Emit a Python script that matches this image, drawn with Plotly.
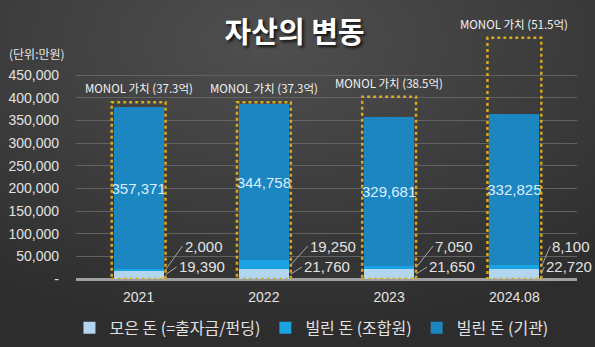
import base64
import plotly.graph_objects as go

# ---- data (만원) ----
categories = ["2021", "2022", "2023", "2024.08"]
raised = [19390, 21760, 21650, 22720]          # 모은 돈 (=출자금/펀딩)
loan_members = [2000, 19250, 7050, 8100]       # 빌린 돈 (조합원)
loan_institution = [357371, 344758, 329681, 332825]  # 빌린 돈 (기관)
monol_value_eok = [37.3, 37.3, 38.5, 51.5]     # MONOL 가치 (억)
y_ticks = [0, 50000, 100000, 150000, 200000, 250000, 300000, 350000, 400000, 450000]

FONT_KR = "Noto Sans CJK KR"
FONT_NUM = "Liberation Sans"

fig = go.Figure()
fig.add_trace(go.Bar(
    name="모은 돈 (=출자금/펀딩)", x=categories, y=raised,
    marker=dict(color="#b3d6f0", line=dict(width=0)), hoverinfo="skip"))
fig.add_trace(go.Bar(
    name="빌린 돈 (조합원)", x=categories, y=loan_members,
    marker=dict(color="#1ba2e2", line=dict(width=0)), hoverinfo="skip"))
fig.add_trace(go.Bar(
    name="빌린 돈 (기관)", x=categories, y=loan_institution,
    marker=dict(color="#1b86bf", line=dict(width=0)),
    text=[f"{v:,}" for v in loan_institution], textposition="inside",
    insidetextanchor="middle", textangle=0, constraintext="none",
    textfont=dict(family=FONT_NUM, size=15, color="#dcefff"),
    cliponaxis=False, hoverinfo="skip"))

# ---- dotted MONOL value boxes + labels ----
box_half = 0.215
box_pad = 17000
shapes = []
annotations = []
for i, v in enumerate(monol_value_eok):
    top = v * 10000 + box_pad
    shapes.append(dict(type="rect", xref="x", yref="y", x0=i - box_half, x1=i + box_half,
                       y0=0, y1=top, line=dict(color="#d9a91e", width=2.5, dash="dot"),
                       fillcolor="rgba(0,0,0,0)", layer="above"))
    annotations.append(dict(xref="x", yref="y", x=i, y=top, yanchor="bottom", yshift=4,
                            showarrow=False, text=f"MONOL 가치 ({v}억)",
                            font=dict(family=FONT_KR, size=11.5, color="#f2f2f2")))

# ---- leader-line labels for small segments ----
label_ax = [17, 17, 17, 9]
for i in range(len(categories)):
    tip_x = i + box_half
    annotations.append(dict(xref="x", yref="y", x=tip_x, y=raised[i] + loan_members[i] / 2,
                            axref="pixel", ayref="y", ax=label_ax[i], ay=72800,
                            xanchor="left", yanchor="middle", showarrow=True, arrowhead=0,
                            arrowwidth=1, arrowcolor="#a8a8a8", standoff=0,
                            text=f"{loan_members[i]:,}",
                            font=dict(family=FONT_NUM, size=15, color="#e2e2e2")))
    annotations.append(dict(xref="x", yref="y", x=tip_x, y=raised[i] / 2,
                            axref="pixel", ayref="y", ax=label_ax[i] - 6, ay=26500,
                            xanchor="left", yanchor="middle", showarrow=True, arrowhead=0,
                            arrowwidth=1, arrowcolor="#a8a8a8", standoff=0,
                            text=f"{raised[i]:,}",
                            font=dict(family=FONT_NUM, size=15, color="#e2e2e2")))

annotations.append(dict(xref="paper", yref="y", x=0, xshift=-69, y=498500, xanchor="left",
                        yanchor="middle", showarrow=False, text="(단위:만원)",
                        font=dict(family=FONT_KR, size=12, color="#e6e6e6")))

# ---- background gradient ----
svg = ("<svg xmlns='http://www.w3.org/2000/svg' width='595' height='347' preserveAspectRatio='none'>"
       "<defs><radialGradient id='g' cx='0.45' cy='0.12' r='0.85'>"
       "<stop offset='0' stop-color='#4f4f4f'/><stop offset='1' stop-color='#2d2d2d'/>"
       "</radialGradient></defs><rect width='595' height='347' fill='url(#g)'/></svg>")
bg_src = "data:image/svg+xml;base64," + base64.b64encode(svg.encode()).decode()

L, R, T, B = 76, 18, 7, 68
pw, ph = 595 - L - R, 347 - T - B

fig.update_layout(
    width=595, height=347, barmode="stack", bargap=0.6,
    margin=dict(l=L, r=R, t=T, b=B, pad=0, autoexpand=False),
    paper_bgcolor="#3a3a3a", plot_bgcolor="rgba(0,0,0,0)",
    images=[dict(source=bg_src, xref="paper", yref="paper", x=-L / pw, y=1 + T / ph,
                 sizex=595 / pw, sizey=347 / ph, xanchor="left", yanchor="top",
                 sizing="stretch", layer="below")],
    title=dict(text="<b>자산의 변동</b>", xref="container", x=0.495, y=0.905,
               xanchor="center", yanchor="middle",
               font=dict(family=FONT_KR, size=29, color="#ffffff",
                         shadow="2px 2px 3px #111111")),
    showlegend=True,
    legend=dict(orientation="h", x=0.47, xanchor="center", xref="paper",
                y=-0.18, yanchor="middle", traceorder="normal",
                font=dict(family=FONT_KR, size=16, color="#e2e2e2"),
                bgcolor="rgba(0,0,0,0)", itemwidth=30),
    xaxis=dict(type="category", showgrid=False, showline=False, ticks="",
               tickfont=dict(family=FONT_NUM, size=14, color="#e2e2e2"),
               ticklabelstandoff=8, range=[-0.5, 3.5], tickangle=0),
    yaxis=dict(range=[0, 600000], tickvals=y_ticks,
               ticktext=["-"] + [f"{v:,}" for v in y_ticks[1:]],
               showgrid=True, gridcolor="#626262", gridwidth=1,
               zeroline=True, zerolinecolor="#a0a0a0", zerolinewidth=2.5,
               showline=False, ticks="",
               tickfont=dict(family=FONT_NUM, size=14, color="#e2e2e2"),
               ticklabelstandoff=16),
    shapes=shapes, annotations=annotations,
)

fig.write_html("out.html")
